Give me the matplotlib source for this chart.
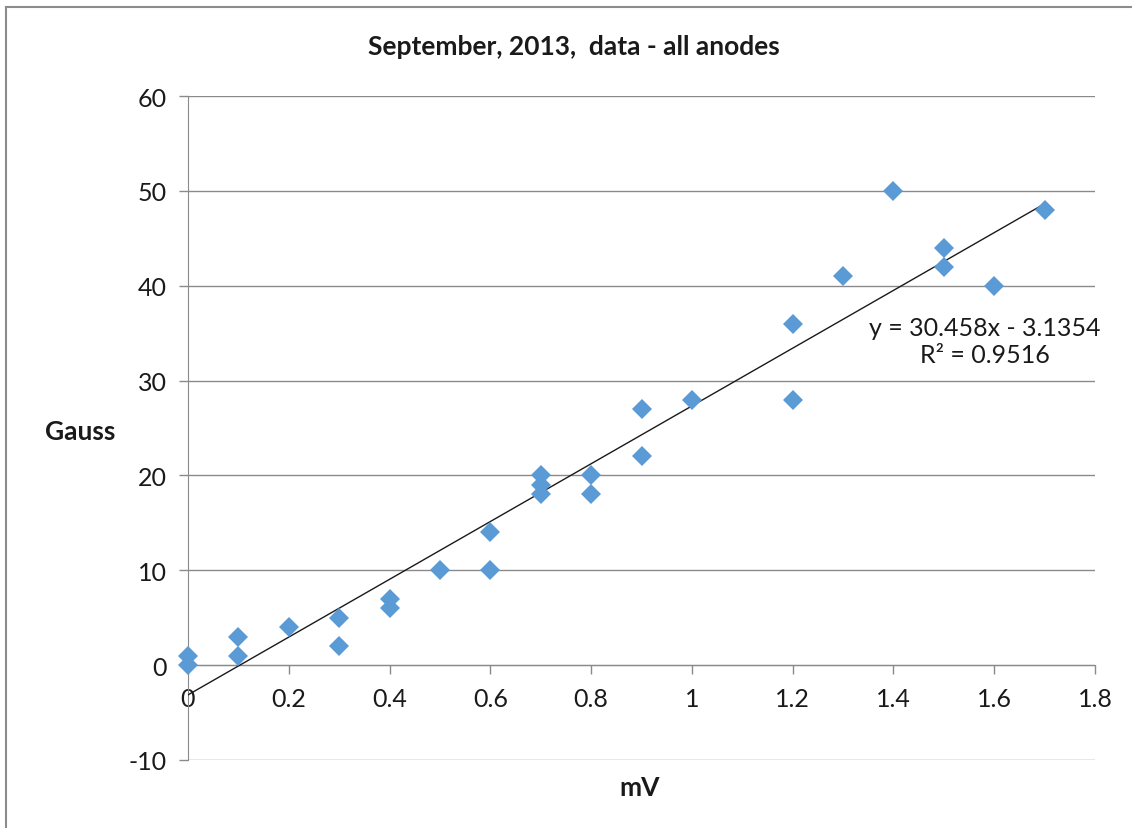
import matplotlib
matplotlib.use("Agg")
import matplotlib.pyplot as plt
from matplotlib.lines import Line2D
import numpy as np

plt.rcParams['font.family'] = ['Lato', 'DejaVu Sans']
plt.rcParams['axes.unicode_minus'] = False

# Data
mv = [0, 0, 0.1, 0.1, 0.2, 0.3, 0.3, 0.4, 0.4, 0.5, 0.6, 0.6, 0.7, 0.7, 0.7,
      0.8, 0.8, 0.9, 0.9, 1.0, 1.2, 1.2, 1.3, 1.4, 1.5, 1.5, 1.6, 1.7]
gauss = [1, 0, 3, 1, 4, 5, 2, 7, 6, 10, 14, 10, 20, 19, 18,
         20, 18, 27, 22, 28, 36, 28, 41, 50, 44, 42, 40, 48]
slope = 30.458
intercept = -3.1354
r_squared = 0.9516
x_ticks = [0, 0.2, 0.4, 0.6, 0.8, 1, 1.2, 1.4, 1.6, 1.8]
x_tick_labels = ['0', '0.2', '0.4', '0.6', '0.8', '1', '1.2', '1.4', '1.6', '1.8']
y_ticks = [-10, 0, 10, 20, 30, 40, 50, 60]

W, H = 1132, 829
fig = plt.figure(figsize=(W / 100, H / 100), dpi=100)
fig.patch.set_facecolor('white')
# chart-area border (only top and left edges visible)
fig.add_artist(Line2D([6 / W, 1.0], [1 - 8 / H, 1 - 8 / H], transform=fig.transFigure,
                      color='#8c8c8c', linewidth=1.5))
fig.add_artist(Line2D([6 / W, 6 / W], [0.0, 1 - 8 / H], transform=fig.transFigure,
                      color='#8c8c8c', linewidth=1.5))

ax = fig.add_axes([188 / W, 1 - 761 / H, (1095 - 188) / W, (761 - 97) / H])
ax.set_xlim(0, 1.8)
ax.set_ylim(-10, 60)

grid_col = '#8a8a8a'
for yv in y_ticks:
    ax.axhline(yv, color=grid_col, linewidth=1.0, zorder=1)

# trendline
xs = np.array([min(mv), max(mv)])
ax.plot(xs, slope * xs + intercept, color='#1a1a1a', linewidth=1.0, zorder=3)

ax.plot(mv, gauss, linestyle='none', marker='D', markersize=10.5,
        color='#5B9BD5', markeredgewidth=0, zorder=4, clip_on=False)

for s in ['top', 'right']:
    ax.spines[s].set_visible(False)
ax.spines['bottom'].set_position(('data', 0))
ax.spines['bottom'].set_color(grid_col)
ax.spines['left'].set_color(grid_col)

ax.set_xticks(x_ticks)
ax.set_xticklabels(x_tick_labels)
ax.set_yticks(y_ticks)
ax.tick_params(axis='both', colors=grid_col, labelcolor='#1a1a1a',
               labelsize=18, length=6.5, width=1.0, direction='out')
ax.tick_params(axis='y', pad=9)
ax.tick_params(axis='x', pad=9)

fig.text(574 / W, 1 - 47 / H, 'September, 2013,  data - all anodes',
         ha='center', va='center', fontsize=19, fontweight='bold', color='#1a1a1a')
fig.text(80 / W, 1 - 432 / H, 'Gauss', ha='center', va='center',
         fontsize=19, fontweight='bold', color='#1a1a1a')
fig.text(640 / W, 1 - 788 / H, 'mV', ha='center', va='center',
         fontsize=19, fontweight='bold', color='#1a1a1a')

sign = '-' if intercept < 0 else '+'
eq = f'y = {slope}x {sign} {abs(intercept)}\nR² = {r_squared}'
fig.text(985 / W, 1 - 342 / H, eq, ha='center', va='center', fontsize=18,
         color='#1a1a1a', linespacing=1.2, multialignment='center')

fig.savefig('out.png', dpi=100, facecolor='white')
